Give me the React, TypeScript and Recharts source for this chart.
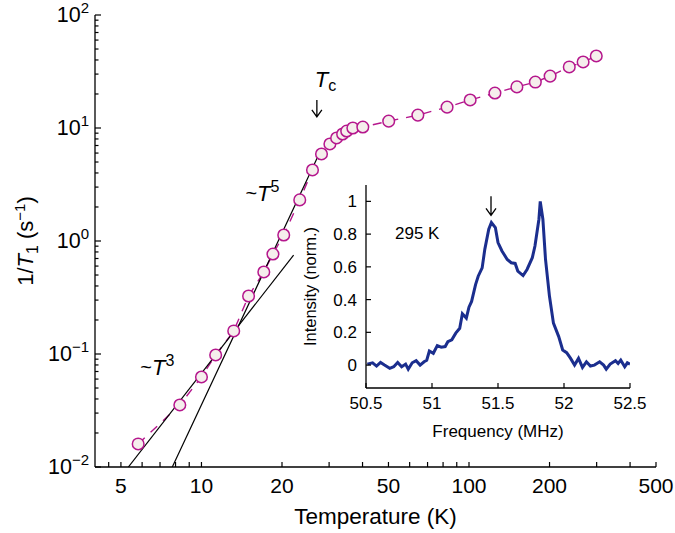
import React from 'react'

//* Recharts
import { ComposedChart, LineChart, Line, XAxis, YAxis, ReferenceDot, Label, CartesianGrid } from 'recharts'

// main panel: 1/T1 vs temperature (log-log)
const temps = [5.8, 8.3, 10.0, 11.3, 13.2, 15.0, 17.1, 18.5, 20.3, 23.3, 26.0, 28.1, 30.2, 32.0, 33.7, 34.9, 36.8, 40.1, 50.1, 64.4, 82.8, 101, 125, 151, 177, 201, 237, 267, 299]
const rates = [0.016, 0.0354, 0.0626, 0.098, 0.16, 0.326, 0.532, 0.767, 1.13, 2.31, 4.25, 5.89, 7.22, 8.16, 8.85, 9.4, 10.0, 10.2, 11.5, 13.0, 15.3, 17.7, 20.4, 23.1, 25.5, 28.8, 34.7, 38.4, 43.4]

// power-law guide lines, end points
const t3FitT = [5.33, 22.1]
const t3FitV = [0.01, 0.75]
const t5FitT = [7.78, 27.4]
const t5FitV = [0.01, 5.77]

const xTicks = [4.5, 5, 6, 7, 8, 9, 10, 20, 30, 40, 50, 60, 70, 80, 90, 100, 200, 300, 400, 500]
const xLabels = [5, 10, 20, 50, 100, 200, 500]
const yDecades = [0.01, 0.1, 1, 10, 100]

// inset: NMR spectrum at 295 K
const freq = [50.51, 50.55, 50.58, 50.61, 50.64, 50.68, 50.71, 50.74, 50.77, 50.80, 50.82, 50.85, 50.88, 50.91, 50.94, 50.96, 50.98, 51.01, 51.04, 51.07, 51.10, 51.12, 51.15, 51.18, 51.21, 51.23, 51.26, 51.28, 51.30, 51.33, 51.35, 51.38, 51.40, 51.43, 51.45, 51.48, 51.50, 51.53, 51.57, 51.60, 51.63, 51.65, 51.69, 51.72, 51.76, 51.78, 51.81, 51.82, 51.84, 51.86, 51.89, 51.92, 51.96, 51.99, 52.02, 52.05, 52.08, 52.11, 52.14, 52.17, 52.20, 52.23, 52.27, 52.30, 52.32, 52.35, 52.39, 52.41, 52.43, 52.46, 52.48, 52.50]
const intensity = [0.006, 0.014, -0.006, 0.016, 0, -0.02, -0.01, 0.016, -0.01, 0.006, -0.025, 0.014, 0.027, 0, 0.02, 0.03, 0.086, 0.072, 0.119, 0.109, 0.113, 0.143, 0.154, 0.195, 0.225, 0.314, 0.287, 0.354, 0.389, 0.492, 0.543, 0.594, 0.707, 0.83, 0.871, 0.84, 0.748, 0.697, 0.645, 0.625, 0.621, 0.574, 0.547, 0.584, 0.656, 0.727, 0.891, 1.0, 0.891, 0.645, 0.42, 0.256, 0.174, 0.092, 0.076, 0.041, 0, 0.041, -0.014, 0.02, -0.006, 0, 0.02, 0, -0.025, 0.006, 0.027, 0.01, 0.03, -0.01, 0.014, 0.006]
const fTicks = [50.5, 51, 51.5, 52, 52.5]
const iTicks = [0, 0.2, 0.4, 0.6, 0.8, 1]

const FONT = "'Liberation Sans', Arial, Helvetica, sans-serif"
const MAGENTA = '#b5178d'
const NAVY = '#1b2e8e'

const points = temps.map((T, i) => ({ T, v: rates[i] }))
const t3Line = t3FitT.map((T, i) => ({ T, v: t3FitV[i] }))
const t5Line = t5FitT.map((T, i) => ({ T, v: t5FitV[i] }))
const yTicks = [...yDecades.slice(0, -1).flatMap(d => [1, 2, 3, 4, 5, 6, 7, 8, 9].map(k => d * k)), 100]
const spectrum = freq.map((f, i) => ({ f, i: intensity[i] }))

const isDecade = (v: number) => Math.abs(Math.log10(v) - Math.round(Math.log10(v))) < 1e-6

function BottomTick(props: any) {
    const { x, y, payload } = props
    const labeled = xLabels.includes(payload.value)
    return (
        <g>
            <line x1={x} y1={y} x2={x} y2={y - 5} stroke="#000" strokeWidth={1.2} />
            {labeled && <text x={x} y={y + 26} textAnchor="middle" fontSize={21} fontFamily={FONT} fill="#000">{payload.value}</text>}
        </g>
    )
}

function TopTick(props: any) {
    const { x, y } = props
    return <line x1={x} y1={y} x2={x} y2={y + 5} stroke="#000" strokeWidth={1.2} />
}

function LeftTick(props: any) {
    const { x, y, payload } = props
    const major = isDecade(payload.value)
    const exp = Math.round(Math.log10(payload.value))
    return (
        <g>
            <line x1={x} y1={y} x2={x + (major ? 6 : 3.5)} y2={y} stroke="#000" strokeWidth={1.2} />
            {major && (
                <text x={x - 6} y={y + 7} textAnchor="end" fontSize={21.5} fontFamily={FONT} fill="#000">
                    <tspan>10</tspan>
                    <tspan dy={-9} fontSize={15}>{exp < 0 ? '\u2212' + Math.abs(exp) : exp}</tspan>
                </text>
            )}
        </g>
    )
}

function RightTick(props: any) {
    const { x, y, payload } = props
    const major = isDecade(payload.value)
    return <line x1={x} y1={y} x2={x - (major ? 6 : 3.5)} y2={y} stroke="#000" strokeWidth={1.2} />
}

function InsetBottomTick(props: any) {
    const { x, y, payload } = props
    return (
        <g>
            <line x1={x} y1={y} x2={x} y2={y - 5} stroke="#000" strokeWidth={1.2} />
            <text x={x} y={y + 21} textAnchor="middle" fontSize={17} fontFamily={FONT} fill="#000">{payload.value}</text>
        </g>
    )
}

function InsetLeftTick(props: any) {
    const { x, y, payload } = props
    return (
        <g>
            <line x1={x} y1={y} x2={x + 5} y2={y} stroke="#000" strokeWidth={1.2} />
            <text x={x - 9} y={y + 6} textAnchor="end" fontSize={17} fontFamily={FONT} fill="#000">{payload.value}</text>
        </g>
    )
}

function InsetTopTick(props: any) {
    const { x, y } = props
    return <line x1={x} y1={y} x2={x} y2={y + 5} stroke="#000" strokeWidth={1.2} />
}

function InsetRightTick(props: any) {
    const { x, y } = props
    return <line x1={x} y1={y} x2={x - 5} y2={y} stroke="#000" strokeWidth={1.2} />
}

const DataDot = (p: any) => (
    <circle key={p.index} cx={p.cx} cy={p.cy} r={5.8} fill="#f5eeec" stroke={MAGENTA} strokeWidth={1.5} />
)

const arrowPath = (cx: number, top: number, bottom: number) =>
    `M${cx},${top} L${cx},${bottom} M${cx - 5},${bottom - 7} L${cx},${bottom} L${cx + 5},${bottom - 7}`

const frame = { stroke: '#000', strokeWidth: 1.3 }

// "~T^n" power-law annotation
const PowerLabel = (n: number) => (p: any) => (
    <text x={p.cx} y={p.cy} fontSize={22} fontFamily={FONT} fill="#000">
        <tspan fontSize={20} dy={-1}>~</tspan>
        <tspan fontStyle="italic" dy={1}>T</tspan>
        <tspan fontSize={16} dy={-9}>{n}</tspan>
    </text>
)

function App() {
    return (
        <div style={{ position: 'absolute', left: 0, top: 0, width: 675, height: 533, background: '#fff' }}>
            <ComposedChart width={675} height={533} margin={{ top: 15, right: 19, bottom: 0, left: 35 }}>
                <XAxis dataKey="T" type="number" scale="log" domain={[4, 500]} allowDataOverflow ticks={xTicks} interval={0}
                    height={66} tickLine={false} tickSize={0} tickMargin={0} axisLine={frame} tick={<BottomTick />}>
                    <Label content={(p: any) => (
                        <text x={p.viewBox.x + p.viewBox.width / 2} y={p.viewBox.y + 57} textAnchor="middle" fontSize={22.5} fontFamily={FONT} fill="#000">Temperature (K)</text>
                    )} />
                </XAxis>
                <XAxis xAxisId="top" orientation="top" dataKey="T" type="number" scale="log" domain={[4, 500]} allowDataOverflow ticks={xTicks} interval={0}
                    height={0} tickLine={false} tickSize={0} tickMargin={0} axisLine={frame} tick={<TopTick />} />
                <YAxis type="number" scale="log" domain={[0.01, 100]} allowDataOverflow ticks={yTicks} interval={0}
                    width={60} tickLine={false} tickSize={0} tickMargin={0} axisLine={frame} tick={<LeftTick />}>
                    <Label content={(p: any) => {
                        const cy = p.viewBox.y + p.viewBox.height / 2
                        return (
                            <text x={33} y={cy} transform={`rotate(-90, 33, ${cy})`} textAnchor="middle" fontSize={22} fontFamily={FONT} fill="#000">
                                <tspan>1/</tspan>
                                <tspan fontStyle="italic">T</tspan>
                                <tspan fontSize={16} dy={5}>1</tspan>
                                <tspan dy={-5}> (s</tspan>
                                <tspan fontSize={15} dy={-8}>{'\u2212'}1</tspan>
                                <tspan dy={8}>)</tspan>
                            </text>
                        )
                    }} />
                </YAxis>
                <YAxis yAxisId="right" orientation="right" type="number" scale="log" domain={[0.01, 100]} allowDataOverflow ticks={yTicks} interval={0}
                    width={0} tickLine={false} tickSize={0} tickMargin={0} axisLine={frame} tick={<RightTick />} />

                <Line data={points} dataKey="v" stroke={MAGENTA} strokeWidth={1.4} strokeDasharray="9 8" dot={DataDot} activeDot={false} isAnimationActive={false} />
                <Line data={t3Line} dataKey="v" stroke="#000" strokeWidth={1.2} dot={false} activeDot={false} isAnimationActive={false} />
                <Line data={t5Line} dataKey="v" stroke="#000" strokeWidth={1.2} dot={false} activeDot={false} isAnimationActive={false} />

                <ReferenceDot x={27} y={17.7} r={0} shape={(p: any) => (
                    <g>
                        <text x={p.cx - 2} y={p.cy - 13} fontSize={22} fontFamily={FONT} fill="#000">
                            <tspan fontStyle="italic">T</tspan>
                            <tspan fontSize={16} dy={4}>c</tspan>
                        </text>
                        <path d={arrowPath(p.cx, p.cy, p.cy + 17)} stroke="#000" strokeWidth={1.3} fill="none" />
                    </g>
                )} />
                <ReferenceDot x={14.6} y={2.26} r={0} shape={PowerLabel(5)} />
                <ReferenceDot x={5.91} y={0.0652} r={0} shape={PowerLabel(3)} />
            </ComposedChart>

            <div style={{ position: 'absolute', left: 290, top: 170 }}>
                <LineChart width={360} height={280} data={spectrum} margin={{ top: 15, right: 20, bottom: 0, left: 26 }}>
                    <CartesianGrid horizontal={false} vertical={false} fill="#fff" stroke="none" />
                    <XAxis dataKey="f" type="number" domain={[50.5, 52.5]} allowDataOverflow ticks={fTicks} interval={0}
                        height={62} tickLine={false} tickSize={0} tickMargin={0} axisLine={frame} tick={<InsetBottomTick />}>
                        <Label content={(p: any) => (
                            <text x={p.viewBox.x + p.viewBox.width / 2} y={p.viewBox.y + 49} textAnchor="middle" fontSize={17} fontFamily={FONT} fill="#000">Frequency (MHz)</text>
                        )} />
                    </XAxis>
                    <XAxis xAxisId="top" orientation="top" dataKey="f" type="number" domain={[50.5, 52.5]} allowDataOverflow ticks={fTicks} interval={0}
                        height={0} tickLine={false} tickSize={0} tickMargin={0} axisLine={frame} tick={<InsetTopTick />} />
                    <YAxis type="number" domain={[-0.14, 1.1]} allowDataOverflow ticks={iTicks} interval={0}
                        width={50} tickLine={false} tickSize={0} tickMargin={0} axisLine={frame} tick={<InsetLeftTick />}>
                        <Label content={(p: any) => {
                            const cy = p.viewBox.y + p.viewBox.height / 2
                            return (
                                <text x={26} y={cy} transform={`rotate(-90, 26, ${cy})`} textAnchor="middle" fontSize={16.5} fontFamily={FONT} fill="#000">Intensity (norm.)</text>
                            )
                        }} />
                    </YAxis>
                    <YAxis yAxisId="right" orientation="right" type="number" domain={[-0.14, 1.1]} allowDataOverflow ticks={iTicks} interval={0}
                        width={0} tickLine={false} tickSize={0} tickMargin={0} axisLine={frame} tick={<InsetRightTick />} />

                    <Line dataKey="i" stroke={NAVY} strokeWidth={3} dot={false} activeDot={false} isAnimationActive={false} />

                    <ReferenceDot x={51.447} y={0.97} r={0} shape={(p: any) => (
                        <path d={arrowPath(p.cx, p.cy - 10, p.cy + 9)} stroke="#000" strokeWidth={1.3} fill="none" />
                    )} />
                    <ReferenceDot x={50.72} y={0.773} r={0} shape={(p: any) => (
                        <text x={p.cx} y={p.cy} fontSize={17} fontFamily={FONT} fill="#000">295 K</text>
                    )} />
                </LineChart>
            </div>
        </div>
    )
}

export default App
